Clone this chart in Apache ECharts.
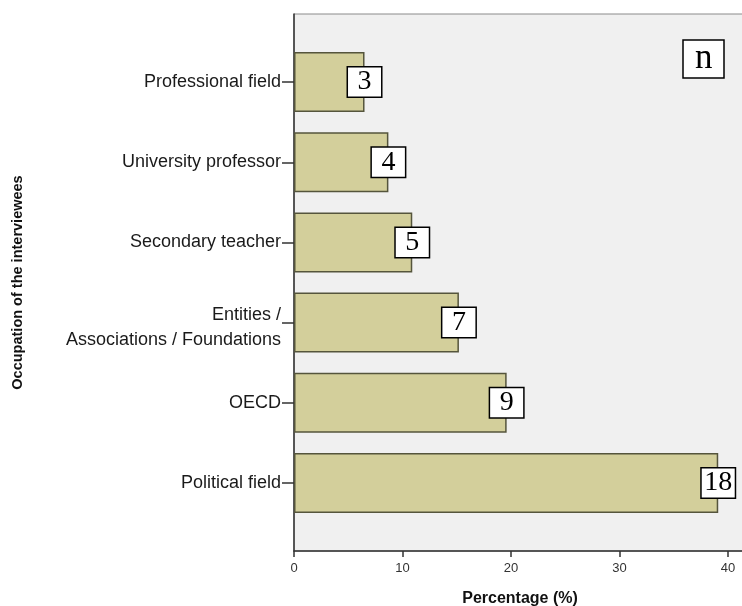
<!DOCTYPE html>
<html><head><meta charset="utf-8">
<script src="https://cdn.jsdelivr.net/npm/echarts@6/dist/echarts.min.js"></script>
<style>html,body{margin:0;padding:0;background:#fff}#c{width:742px;height:606px}</style>
</head><body><div id="c"></div>
<script>
const categories = ["Professional field", "University professor", "Secondary teacher", "Entities /\nAssociations / Foundations", "OECD", "Political field"];
const percentages = [6.5, 8.7, 10.9, 15.2, 19.6, 39.1];
const counts = [3, 4, 5, 7, 9, 18];
const xTicks = [0, 10, 20, 30, 40];

const chart = echarts.init(document.getElementById('c'), null, {renderer: 'canvas'});
const XMAX = 41.66;
const GW = 452;
const catFont = {fontFamily: 'Liberation Sans', fontSize: 18, color: '#1a1a1a', lineHeight: 25, align: 'right'};
chart.setOption({
  animation: false,
  title: {
    text: 'n', left: 683, top: 40, padding: [0, 12, 0, 12],
    backgroundColor: '#fff', borderColor: '#000', borderWidth: 1.5,
    textStyle: {fontFamily: 'Liberation Serif', fontSize: 35, fontWeight: 'normal', color: '#000', lineHeight: 38}
  },
  grid: [
    {left: 294, top: 14, width: GW, bottom: 55, outerBoundsMode: 'none', containLabel: false,
     show: true, backgroundColor: '#f0f0f0', borderColor: '#8a8a8a', borderWidth: 1},
    {left: 294, top: 42, width: GW, bottom: 83, outerBoundsMode: 'none', containLabel: false}
  ],
  xAxis: [
    {gridIndex: 0, type: 'value', min: 0, max: XMAX, interval: 10,
     name: 'Percentage (%)', nameLocation: 'middle', nameGap: 40,
     nameTextStyle: {fontFamily: 'Liberation Sans', fontSize: 16, fontWeight: 'bold', color: '#111'},
     axisLine: {show: true, lineStyle: {color: '#333', width: 1.5}},
     axisTick: {show: true, length: 6, customValues: xTicks, lineStyle: {color: '#333', width: 1.5}},
     axisLabel: {customValues: xTicks, margin: 11, fontFamily: 'Liberation Sans', fontSize: 13, color: '#333'},
     splitLine: {show: false}},
    {gridIndex: 1, type: 'value', min: 0, max: XMAX, show: false, splitLine: {show: false}}
  ],
  yAxis: [
    {gridIndex: 0, type: 'value', min: 0, max: 1,
     axisLine: {show: true, lineStyle: {color: '#333', width: 1.5}},
     axisTick: {show: false}, axisLabel: {show: false}, splitLine: {show: false}},
    {gridIndex: 1, type: 'category', data: categories, inverse: true,
     name: 'Occupation of the interviewees', nameLocation: 'middle', nameGap: 269, nameRotate: 90,
     nameTextStyle: {fontFamily: 'Liberation Sans', fontSize: 14.5, fontWeight: 'bold', color: '#111'},
     axisLine: {show: false},
     axisTick: {show: true, alignWithLabel: true, length: 12, lineStyle: {color: '#333', width: 1.5}},
     axisLabel: Object.assign({margin: 13,
       formatter: v => {
         const parts = v.split('\n');
         return parts.length > 1 ? '{s| }\n{a|' + parts[0] + '}\n{a|' + parts[1] + '}' : v;
       },
       rich: {
         s: {fontSize: 2, lineHeight: 10},
         a: Object.assign({}, catFont)
       }}, catFont),
     splitLine: {show: false}}
  ],
  series: [{
    type: 'bar', xAxisIndex: 1, yAxisIndex: 1,
    data: percentages, barWidth: 60,
    itemStyle: {color: '#d3cf9b', borderColor: '#55553c', borderWidth: 1.5},
    label: {
      show: true, position: ['100%', '50%'], align: 'center', verticalAlign: 'middle',
      formatter: p => String(counts[p.dataIndex]),
      fontFamily: 'Liberation Serif', fontSize: 28, color: '#000',
      backgroundColor: '#fff', borderColor: '#000', borderWidth: 1.5,
      width: 27, height: 27, lineHeight: 27, padding: [1, 3, 1, 3]
    }
  }]
});
</script></body></html>
